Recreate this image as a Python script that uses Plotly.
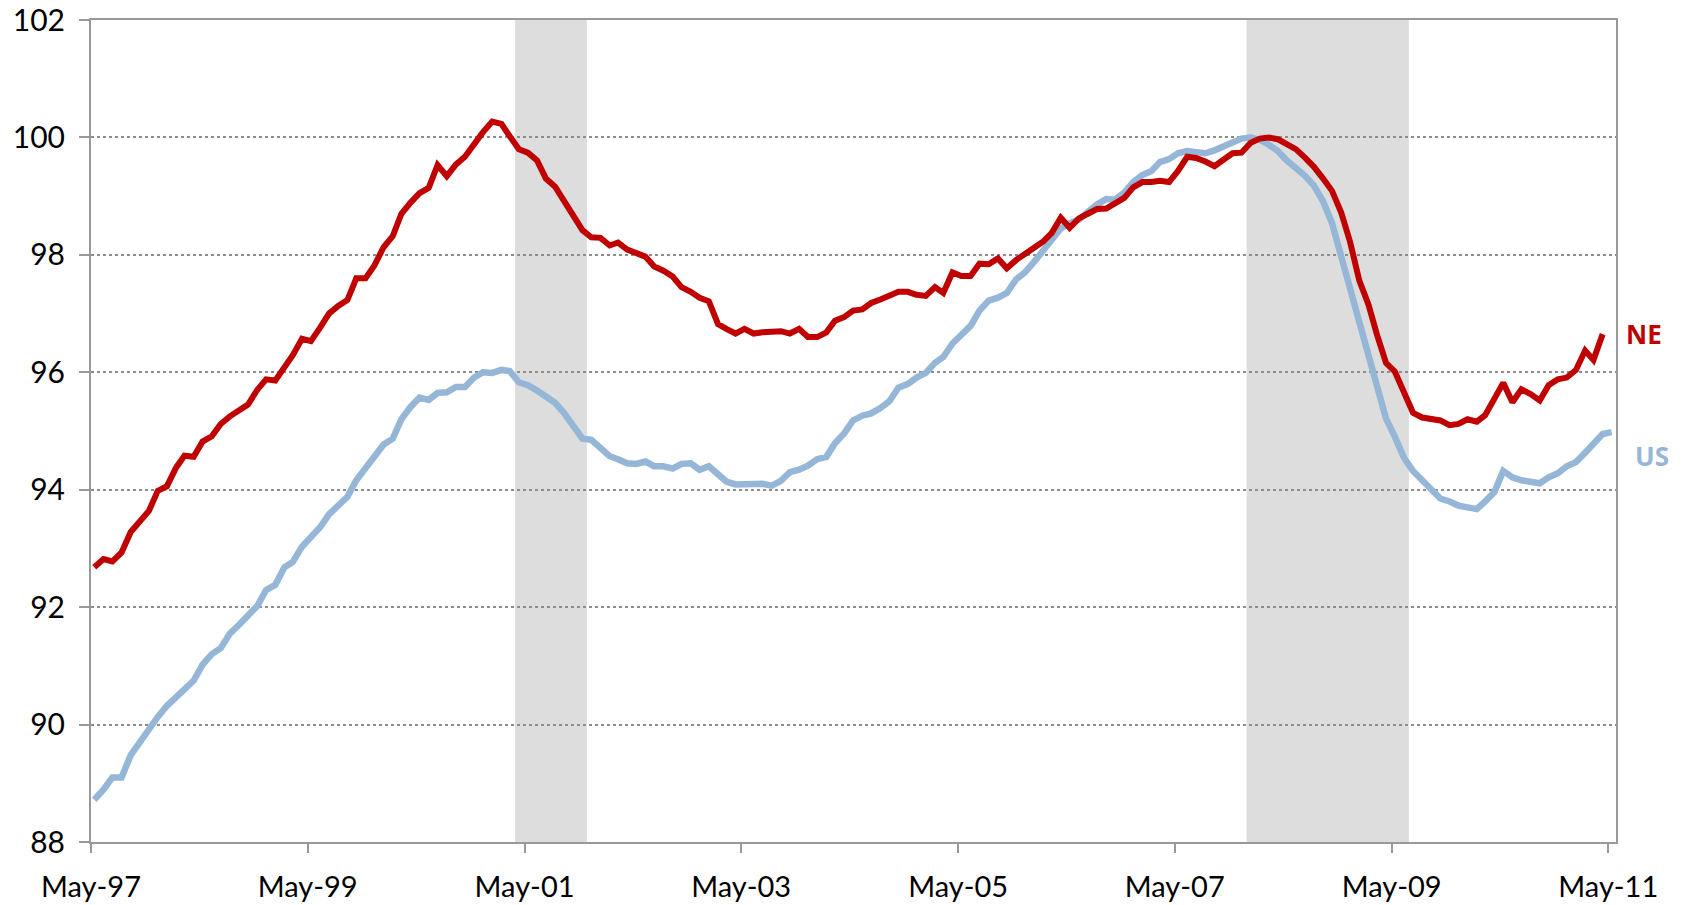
import pandas as pd
import plotly.graph_objects as go

# ---- data ----
months_us = (pd.date_range("1997-05-01", periods=169, freq="MS") + pd.Timedelta(days=11)).strftime("%Y-%m-%d").tolist()
us_values = [
    88.72, 88.89, 89.10, 89.10, 89.48, 89.71, 89.92, 90.13, 90.32, 90.47,
    90.57, 90.75, 91.02, 91.20, 91.30, 91.55, 91.70, 91.84, 92.02, 92.29,
    92.38, 92.68, 92.77, 93.03, 93.19, 93.36, 93.58, 93.73, 93.88, 94.16,
    94.36, 94.58, 94.77, 94.87, 95.20, 95.41, 95.57, 95.53, 95.65, 95.66,
    95.75, 95.75, 95.91, 96.00, 95.99, 96.04, 96.02, 95.83, 95.78, 95.69,
    95.59, 95.48, 95.30, 95.08, 94.87, 94.85, 94.72, 94.57, 94.52, 94.45,
    94.44, 94.48, 94.40, 94.40, 94.36, 94.44, 94.45, 94.34, 94.40, 94.28,
    94.14, 94.09, 94.09, 94.09, 94.10, 94.07, 94.15, 94.30, 94.34, 94.41,
    94.52, 94.56, 94.79, 94.96, 95.18, 95.26, 95.30, 95.39, 95.51, 95.74,
    95.80, 95.91, 95.99, 96.16, 96.26, 96.49, 96.63, 96.79, 97.05, 97.22,
    97.27, 97.35, 97.58, 97.70, 97.88, 98.07, 98.27, 98.45, 98.54, 98.60,
    98.73, 98.86, 98.95, 98.94, 99.06, 99.24, 99.36, 99.43, 99.58, 99.63,
    99.73, 99.77, 99.75, 99.73, 99.78, 99.84, 99.93, 99.98, 100.00, 99.96,
    99.88, 99.77, 99.61, 99.49, 99.35, 99.18, 98.91, 98.54, 97.98, 97.43,
    96.86, 96.31, 95.71, 95.21, 94.90, 94.54, 94.32, 94.16, 94.01, 93.85,
    93.80, 93.73, 93.70, 93.67, 93.80, 93.96, 94.32, 94.21, 94.16, 94.13,
    94.11, 94.21, 94.28, 94.40, 94.47, 94.63, 94.79, 94.95, 94.98,
]
months_ne = months_us[:168]
ne_values = [
    92.68, 92.82, 92.78, 92.93, 93.28, 93.45, 93.64, 93.98, 94.06, 94.38,
    94.58, 94.56, 94.82, 94.91, 95.12, 95.25, 95.34, 95.45, 95.70, 95.88,
    95.86, 96.09, 96.29, 96.57, 96.53, 96.76, 97.00, 97.13, 97.23, 97.60,
    97.60, 97.82, 98.13, 98.32, 98.70, 98.89, 99.05, 99.14, 99.53, 99.34,
    99.54, 99.67, 99.89, 100.09, 100.27, 100.23, 100.02, 99.80, 99.74, 99.61,
    99.30, 99.16, 98.91, 98.66, 98.42, 98.30, 98.29, 98.16, 98.21, 98.09,
    98.03, 97.97, 97.80, 97.73, 97.63, 97.45, 97.37, 97.27, 97.21, 96.82,
    96.74, 96.66, 96.74, 96.66, 96.68, 96.68, 96.70, 96.66, 96.74, 96.60,
    96.60, 96.68, 96.88, 96.94, 97.05, 97.07, 97.18, 97.24, 97.30, 97.37,
    97.37, 97.32, 97.30, 97.45, 97.35, 97.70, 97.64, 97.64, 97.85, 97.84,
    97.94, 97.77, 97.91, 98.02, 98.13, 98.23, 98.37, 98.63, 98.46, 98.62,
    98.70, 98.78, 98.79, 98.87, 98.97, 99.15, 99.24, 99.24, 99.26, 99.24,
    99.43, 99.67, 99.65, 99.59, 99.51, 99.62, 99.73, 99.74, 99.91, 99.98,
    100.00, 99.97, 99.88, 99.80, 99.66, 99.50, 99.30, 99.09, 98.72, 98.22,
    97.56, 97.15, 96.65, 96.16, 96.01, 95.66, 95.31, 95.23, 95.20, 95.18,
    95.10, 95.12, 95.20, 95.16, 95.27, 95.53, 95.82, 95.49, 95.71, 95.63,
    95.52, 95.78, 95.88, 95.91, 96.04, 96.37, 96.21, 96.65,
]
recession_starts = ["2001-03-30", "2007-12-29"]
recession_ends = ["2001-11-27", "2009-06-28"]
tick_dates = ["1997-05-01", "1999-05-01", "2001-05-01", "2003-05-01",
              "2005-05-01", "2007-05-01", "2009-05-01", "2011-05-01"]
tick_labels = ["May-97", "May-99", "May-01", "May-03", "May-05", "May-07", "May-09", "May-11"]
y_ticks = [88, 90, 92, 94, 96, 98, 100, 102]

RED = "#C00000"
BLUE = "#95B6D7"
FONT = "Lato"

fig = go.Figure()
fig.add_trace(go.Scatter(x=months_us, y=us_values, mode="lines", name="US",
                         line=dict(color=BLUE, width=6.5), showlegend=False))
fig.add_trace(go.Scatter(x=months_ne, y=ne_values, mode="lines", name="NE",
                         line=dict(color=RED, width=6), showlegend=False))

for s, e in zip(recession_starts, recession_ends):
    fig.add_shape(type="rect", xref="x", yref="paper", x0=s, x1=e, y0=0, y1=1,
                  fillcolor="#DDDDDD", line=dict(width=0), layer="below")

fig.add_annotation(x=1, xref="paper", y=ne_values[-1], yref="y", text="<b>NE</b>",
                   showarrow=False, xanchor="left", xshift=8,
                   font=dict(family="Open Sans", size=26, color=RED))
fig.add_annotation(x=1, xref="paper", y=94.58, yref="y", text="<b>US</b>",
                   showarrow=False, xanchor="left", xshift=17,
                   font=dict(family="Open Sans", size=26, color=BLUE))

fig.update_layout(
    width=1683, height=905,
    margin=dict(l=91, r=67, t=20, b=63),
    paper_bgcolor="white", plot_bgcolor="white",
    font=dict(family=FONT, size=29, color="black"),
)
fig.update_xaxes(
    type="date", range=["1997-05-01", "2011-05-27"], automargin=False,
    tickmode="array", tickvals=tick_dates, ticktext=tick_labels,
    ticks="outside", ticklen=9, tickwidth=1.5, tickcolor="#999999",
    showline=True, linecolor="#999999", linewidth=2, mirror=True,
    showgrid=False, zeroline=False, ticklabelstandoff=9,
    ticklabeloverflow="allow",
    tickfont=dict(family=FONT, size=29),
)
fig.update_yaxes(
    range=[88, 102], tickmode="array", tickvals=y_ticks, automargin=False,
    ticks="outside", ticklen=10, tickwidth=1.5, tickcolor="#999999",
    showline=True, linecolor="#999999", linewidth=2, mirror=True,
    showgrid=True, gridcolor="#8C8C8C", gridwidth=1.5, griddash="dot",
    zeroline=False, ticklabelstandoff=8, ticklabeloverflow="allow",
    tickfont=dict(family=FONT, size=30),
)

fig.write_html(
    "out.html",
    config={"displayModeBar": False},
    post_script="document.body.style.margin='0';document.body.style.overflow='hidden';",
)
